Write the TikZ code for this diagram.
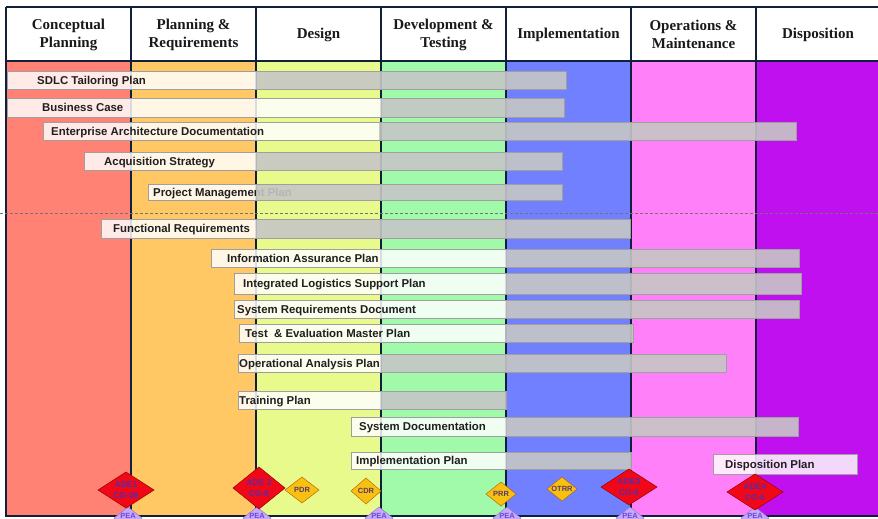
\documentclass[tikz,border=0pt]{standalone}
\usepackage{fontspec}
\setmainfont{Liberation Serif}
\newfontfamily\arialf{Liberation Sans}
\definecolor{cSalmon}{HTML}{FF8275}
\definecolor{cOrange}{HTML}{FFC864}
\definecolor{cYellow}{HTML}{E8FA8C}
\definecolor{cGreen}{HTML}{A0FAAA}
\definecolor{cBlue}{HTML}{7080FF}
\definecolor{cPink}{HTML}{FF80F8}
\definecolor{cPurple}{HTML}{C010F0}
\definecolor{cLine}{HTML}{10203A}
\definecolor{cRed}{HTML}{F00818}
\definecolor{cGold}{HTML}{F8C010}
\definecolor{cLav}{HTML}{C8A8FF}
\definecolor{cAdeTxt}{HTML}{5A2AA8}
\definecolor{cMsTxt}{HTML}{5A3A6A}
\definecolor{cPeaTxt}{HTML}{6A4AD0}
\definecolor{cHatch}{HTML}{C6C6C6}
\newcommand\planbar[8]{%
  \fill[lightpart] (#4,#2) rectangle (#5,#3);
  \node[bartext] (#1) at (#7,{(#2+#3)/2+4.1}) {#8};
  \fill[graypart] (#5,#2) rectangle (#6,#3);
  \draw[barframe] (#4,#2) rectangle (#6,#3);
}
\newcommand\msdiamond[7]{%
  \path[#6] (#2-#4,#3) -- (#2,#3-#5) -- (#2+#4,#3) -- (#2,#3+#5) -- cycle;
  \node[#7] (#1) at (#2,#3) {\csname mstext#1\endcsname};
}
\begin{document}
\begin{tikzpicture}[x=1pt,y=-1pt,
  colline/.style={draw=cLine,line width=1.8pt},
  headtxt/.style={font=\fontsize{15}{18}\selectfont\bfseries,align=center,text=black!90},
  bartext/.style={font=\arialf\fontsize{11.4}{13}\selectfont\bfseries,anchor=base west,inner sep=0pt,text=black!88},
  lightpart/.style={fill=white,fill opacity=0.84},
  graypart/.style={fill=cHatch,fill opacity=0.9},
  barframe/.style={draw=gray!75,line width=0.8pt},
  redms/.style={fill=cRed,draw=red!60!black,line width=0.5pt},
  goldms/.style={fill=cGold,draw=orange!70!black,line width=0.4pt},
  peams/.style={fill=cLav,draw=cLav!70!black,line width=0.4pt},
  adetxt/.style={font=\arialf\fontsize{8.5}{11}\selectfont\bfseries,align=center,text=cAdeTxt,inner sep=0pt},
  mstxt/.style={font=\arialf\fontsize{7.5}{8}\selectfont\bfseries,text=cMsTxt,inner sep=0pt},
  peatxt/.style={font=\arialf\fontsize{7.5}{8}\selectfont\bfseries,text=cPeaTxt,inner sep=0pt,anchor=base},
]
\useasboundingbox (0,0) rectangle (878,519);
\fill[white] (0,0) rectangle (878,519);
% columns
\fill[cSalmon] (6,61) rectangle (131,516);
\fill[cOrange] (131,61) rectangle (256,516);
\fill[cYellow] (256,61) rectangle (381,516);
\fill[cGreen] (381,61) rectangle (506,516);
\fill[cBlue] (506,61) rectangle (631,516);
\fill[cPink] (631,61) rectangle (756,516);
\fill[cPurple] (756,61) rectangle (878,516);
% header
\draw[colline] (6,7) -- (878,7);
\draw[colline] (6,61) -- (878,61);
\draw[colline] (6,7) -- (6,516) -- (878,516);
\foreach \xx in {131,256,381,506,631,756} \draw[colline] (\xx,7) -- (\xx,516);
\node[headtxt] (h1) at (68.5,34.5) {Conceptual\\Planning};
\node[headtxt] (h2) at (193.5,34.5) {Planning \&\\Requirements};
\node[headtxt] (h3) at (318.5,34.5) {Design};
\node[headtxt] (h4) at (443.5,34.5) {Development \&\\Testing};
\node[headtxt] (h5) at (568.5,34.5) {Implementation};
\node[headtxt] (h6) at (693.5,34.5) {Operations \&\\Maintenance};
\node[headtxt] (h7) at (818,34.5) {Disposition};
% dashed separator
\draw[dashed,draw=black!55,line width=0.6pt,dash pattern=on 3pt off 2pt] (0,213) -- (878,213);
% bars
\planbar{sdlc}{71}{89}{7}{256}{566}{37}{SDLC Tailoring Plan}
\planbar{bcase}{98}{117}{7}{381}{564}{42}{Business Case}
\planbar{ead}{122}{140}{43}{379}{796}{51}{Enterprise Architecture Documentation}
\planbar{acq}{152}{170}{84}{256}{562}{104}{Acquisition Strategy}
\planbar{pmp}{184}{200}{148}{256}{562}{153}{Project Management Plan}
\planbar{freq}{219}{238}{101}{256}{630}{113}{Functional Requirements}
\planbar{iap}{249}{267}{211}{506}{799}{227}{Information Assurance Plan}
\planbar{ilsp}{273}{294}{234}{506}{801}{243}{Integrated Logistics Support Plan}
\planbar{srd}{300}{318}{234}{506}{799}{237}{System Requirements Document}
\planbar{temp}{324}{342}{239}{505}{633}{245}{Test\ \ \& Evaluation Master Plan}
\planbar{oap}{354}{372}{238}{381}{726}{239}{Operational Analysis Plan}
\planbar{tp}{391}{409}{238}{381}{506}{239}{Training Plan}
\planbar{sysdoc}{417}{436}{351}{506}{798}{359}{System Documentation}
\planbar{implp}{452}{469}{351}{506}{631}{356}{Implementation Plan}
\planbar{disp}{454}{474}{713}{857}{857}{725}{Disposition Plan}
% milestones
\expandafter\def\csname mstextade1\endcsname{ADE1\\CG-06}
\expandafter\def\csname mstextade2\endcsname{ADE 2\\CG-6}
\expandafter\def\csname mstextade3\endcsname{ADE3\\CG-6}
\expandafter\def\csname mstextade4\endcsname{ADE4\\CG-6}
\expandafter\def\csname mstextpdr\endcsname{PDR}
\expandafter\def\csname mstextcdr\endcsname{CDR}
\expandafter\def\csname mstextprr\endcsname{PRR}
\expandafter\def\csname mstextotrr\endcsname{OTRR}
\foreach \nm/\xx in {pa/128,pb/257,pc/379,pd/507,pe/630,pf/755}{
  \path[peams] (\xx-14,518) -- (\xx,507) -- (\xx+14,518) -- (\xx,529) -- cycle;
  \node[peatxt] (\nm) at (\xx,518) {PEA};
}
\msdiamond{ade1}{126}{490}{28}{18}{redms}{adetxt}
\msdiamond{ade2}{259}{488}{26}{21}{redms}{adetxt}
\msdiamond{pdr}{302}{490}{17}{13}{goldms}{mstxt}
\msdiamond{cdr}{366}{491}{15}{13}{goldms}{mstxt}
\msdiamond{prr}{501}{494}{15}{12}{goldms}{mstxt}
\msdiamond{otrr}{562}{489}{15}{12}{goldms}{mstxt}
\msdiamond{ade3}{629}{487}{28}{18}{redms}{adetxt}
\msdiamond{ade4}{755}{492}{28}{18}{redms}{adetxt}
\end{tikzpicture}
\end{document}
